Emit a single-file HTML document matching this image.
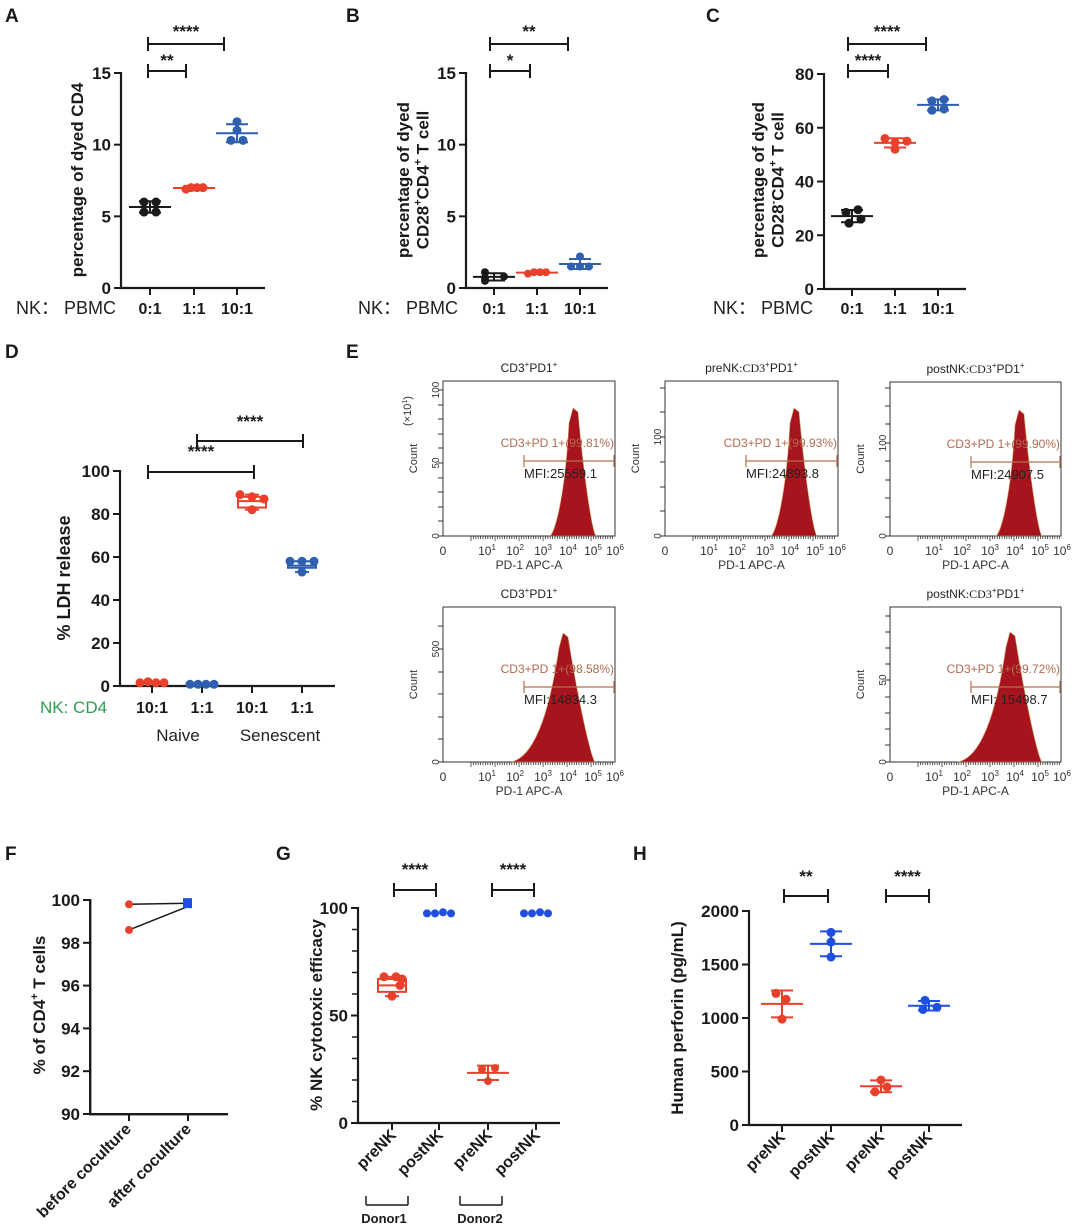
<!DOCTYPE html>
<html><head><meta charset="utf-8"><style>
html,body{margin:0;padding:0;background:#fff}
svg{display:block}
text{font-family:"Liberation Sans",Arial,sans-serif}
</style></head><body>
<svg id="s" width="1080" height="1227" viewBox="0 0 1080 1227" xmlns="http://www.w3.org/2000/svg"></svg>
<script>
var o='';
var K='#1a1a1a',R='#e8402a',B='#2f5fae',BB='#1f4fe0',G='#2e9e4f';
function L(x1,y1,x2,y2,c,w){o+='<line x1="'+x1+'" y1="'+y1+'" x2="'+x2+'" y2="'+y2+'" stroke="'+(c||K)+'" stroke-width="'+(w||2)+'"/>';}
function T(x,y,s,sz,a,wt,c,extra){o+='<text x="'+x+'" y="'+y+'" font-size="'+sz+'" text-anchor="'+(a||'middle')+'" font-weight="'+(wt||'normal')+'" fill="'+(c||K)+'" '+(extra||'')+'>'+s+'</text>';}
function C(x,y,r,c){o+='<circle cx="'+x+'" cy="'+y+'" r="'+r+'" fill="'+c+'"/>';}
function axis(ax,y0,yTop,xEnd,ticks,vmax,cats,labs,labY,fs){
 L(ax,yTop-1,ax,y0+1,K,2.2);L(ax-1,y0,xEnd,y0,K,2.2);
 ticks.forEach(function(t){var y=y0-(y0-yTop)*t/vmax;L(ax-7,y,ax,y,K,2);T(ax-10,y+6,t,fs||17,'end','bold');});
 cats.forEach(function(c,i){L(c,y0,c,y0+7,K,2);if(labs)T(c,labY,labs[i],fs||16,'middle','bold');});
}
function yv(y0,yTop,vmax,v){return y0-(y0-yTop)*v/vmax;}
function grp(x,y0,yTop,vmax,vals,col,r,jit){
 var m=vals.reduce(function(a,b){return a+b},0)/vals.length;
 var sd=Math.sqrt(vals.reduce(function(a,b){return a+(b-m)*(b-m)},0)/(vals.length-1));
 var ym=yv(y0,yTop,vmax,m),yh=yv(y0,yTop,vmax,m+sd),yl=yv(y0,yTop,vmax,m-sd);
 L(x-21,ym,x+21,ym,col,2);L(x,yh,x,yl,col,2);L(x-11,yh,x+11,yh,col,2);L(x-11,yl,x+11,yl,col,2);
 vals.forEach(function(v,i){C(x+jit[i],yv(y0,yTop,vmax,v),r||4.5,col);});
}
function br(x1,x2,y,s,sy){L(x1,y,x2,y,K,2);L(x1,y-7,x1,y+7,K,2);L(x2,y-7,x2,y+7,K,2);T((x1+x2)/2,sy||(y-6),s,17,'middle','bold');}
function ylab(x,y,lines,fs){o+='<text transform="translate('+x+','+y+') rotate(-90)" font-size="'+fs+'" text-anchor="middle" font-weight="bold" fill="'+K+'">';lines.forEach(function(l,i){o+='<tspan x="0" dy="'+(i?fs*1.15:0)+'">'+l+'</tspan>';});o+='</text>';}
[['A',5,22],['B',346,22],['C',706,22],['D',5,358],['E',346,358],['F',5,860],['G',276,860],['H',633,860]].forEach(function(a){T(a[1],a[2],a[0],19,'start','bold');});
// Panel A
axis(121,288,73,265,[0,5,10,15],15,[150,194,237],['0:1','1:1','10:1'],314);
T(16,314,'NK： PBMC',18,'start','normal','#222');
grp(150,288,73,15,[5.3,5.3,6.0,6.0],K,4.5,[-6,6,-6,6]);
grp(194,288,73,15,[6.9,7.0,7.0,7.0],R,4.5,[-8,-3,3,9]);
grp(237,288,73,15,[10.3,10.3,11.0,11.6],B,4.5,[-6,6,0,0]);
br(148,186,71,'**',66);br(148,224,44,'****',37);
ylab(83,180,['percentage of dyed CD4'],17);
// Panel B
axis(466,288,73,608,[0,5,10,15],15,[494,537,580],['0:1','1:1','10:1'],314);
T(358,314,'NK： PBMC',18,'start','normal','#222');
grp(494,288,73,15,[0.5,0.7,0.8,1.1],K,4,[-9,-9,10,-9]);
grp(537,288,73,15,[1.0,1.1,1.1,1.1],R,4,[-9,-3,3,9]);
grp(580,288,73,15,[1.5,1.5,1.5,2.2],B,4,[-9,0,9,0]);
br(490,530,71,'*',66);br(490,568,44,'**',37);
ylab(409,180,['percentage of dyed','CD28<tspan dy="-7" font-size="11">+</tspan><tspan dy="7">CD4</tspan><tspan dy="-7" font-size="11">+</tspan><tspan dy="7"> T cell</tspan>'],17);
// Panel C
axis(824,289,74,966,[0,20,40,60,80],80,[852,895,938],['0:1','1:1','10:1'],314);
T(713,314,'NK： PBMC',18,'start','normal','#222');
grp(852,289,74,80,[24.5,26,28.5,29.5],K,4.5,[-3,9,-6,6]);
grp(895,289,74,80,[52,54.5,55,56],R,4.5,[0,0,12,-10]);
grp(938,289,74,80,[66.5,67,70,70.5],B,4.5,[-6,6,-6,6]);
br(848,888,71,'****',66);br(848,926,44,'****',37);
ylab(764,180,['percentage of dyed','CD28<tspan dy="-7" font-size="11">-</tspan><tspan dy="7">CD4</tspan><tspan dy="-7" font-size="11">+</tspan><tspan dy="7"> T cell</tspan>'],17);
// Panel D
axis(120,686,471,335,[0,20,40,60,80,100],100,[152,202,252,302],['10:1','1:1','10:1','1:1'],713);
T(40,713,'NK: CD4',17,'start','normal',G);
T(178,741,'Naive',17,'middle','normal','#222');T(280,741,'Senescent',17,'middle','normal','#222');
[[-12,1.5],[-4,2],[4,1.5],[12,1.5]].forEach(function(p){C(152+p[0],yv(686,471,100,p[1]),4.5,R);});
[[-12,0.8],[-4,0.8],[4,0.8],[12,0.8]].forEach(function(p){C(202+p[0],yv(686,471,100,p[1]),4.5,B);});
function box(x,y0,yTop,vm,q1,q3,mn,mx,med,col,pts){
 var a=yv(y0,yTop,vm,q3),b=yv(y0,yTop,vm,q1);
 o+='<rect x="'+(x-14)+'" y="'+a+'" width="28" height="'+(b-a)+'" fill="none" stroke="'+col+'" stroke-width="2"/>';
 L(x-14,yv(y0,yTop,vm,med),x+14,yv(y0,yTop,vm,med),col,2);
 L(x,a,x,yv(y0,yTop,vm,mx),col,2);L(x,b,x,yv(y0,yTop,vm,mn),col,2);
 L(x-7,yv(y0,yTop,vm,mn),x+7,yv(y0,yTop,vm,mn),col,2);L(x-7,yv(y0,yTop,vm,mx),x+7,yv(y0,yTop,vm,mx),col,2);
 pts.forEach(function(p){C(x+p[0],yv(y0,yTop,vm,p[1]),4.5,col);});
}
box(252,686,471,100,83,88,82,89,86,R,[[-12,89],[0,88],[12,87],[0,82]]);
box(302,686,471,100,55,58,53,58,56,B,[[-12,58],[0,58],[12,58],[0,53]]);
br(148,254,472,'****',457);br(197,303,441,'****',427);
ylab(70,578,['% LDH release'],18);
// Panel E histograms
function hist(bx,by,bw,bh,title,yt,gate,mfi,peakX,peakTop,wide,ylab2,yticks){
 T(bx+bw/2,by-9,title,12,'middle','normal','#222','font-family="Liberation Serif"');
 o+='<rect x="'+bx+'" y="'+by+'" width="'+bw+'" height="'+bh+'" fill="none" stroke="#333" stroke-width="1"/>';
 var b=by+bh;
 var lw=wide?34:20,rw=wide?26:17;
 var p='M'+(peakX-lw-(wide?20:5))+','+b+' C'+(peakX-lw)+','+(b-4)+' '+(peakX-lw/2)+','+(b-bh*0.25)+' '+(peakX-6)+','+(peakTop+15)+' L'+(peakX-2)+','+peakTop+' L'+(peakX+3)+','+(peakTop+4)+' C'+(peakX+rw/2)+','+(b-bh*0.4)+' '+(peakX+rw)+','+(b-4)+' '+(peakX+rw+4)+','+b+' Z';
 o+='<path d="'+p+'" fill="#a8141e" stroke="#c8a060" stroke-width="0.6"/>';
 var gy=by+80;L(bx+81,gy,bx+bw,gy,'#b07050',1.2);L(bx+81,gy-6,bx+81,gy+6,'#b07050',1.2);L(bx+bw-1,gy-6,bx+bw-1,gy+6,'#b07050',1.2);
 T(bx+bw-1,gy-14,gate,12,'end','normal','#b06a50');
 T(bx+81,gy+17,mfi,13,'start','normal','#222','font-family="Liberation Mono"');
 yticks.forEach(function(t){L(bx-5,t[0],bx,t[0],'#333',1);if(t[1]!=='')T(bx-8,t[0],t[1],10,'middle','normal','#333','transform="rotate(-90 '+(bx-8)+' '+t[0]+')" dy="4"');});
 T(bx-26,by+bh/2,'Count',11,'middle','normal','#333','transform="rotate(-90 '+(bx-26)+' '+(by+bh/2)+')"');
 if(ylab2)T(bx-32,by+30,'(×10<tspan dy="-4" font-size="7">1</tspan><tspan dy="4">)</tspan>',11,'middle','normal','#333','transform="rotate(-90 '+(bx-32)+' '+(by+30)+')"');
 for(var i=0;i<60;i++){var xx=bx+28+i*2.4;L(xx,b,xx,b+(i%10==0?5:3),'#333',0.8);}
 var xl=['0','10<tspan dy="-5" font-size="8">1</tspan>','10<tspan dy="-5" font-size="8">2</tspan>','10<tspan dy="-5" font-size="8">3</tspan>','10<tspan dy="-5" font-size="8">4</tspan>','10<tspan dy="-5" font-size="8">5</tspan>','10<tspan dy="-5" font-size="8">6</tspan>'];
 var xs=[0,44,72,100,125,150,172];
 xl.forEach(function(s,i){T(bx+xs[i],b+19,s,12,'middle','normal','#333');});
 T(bx+bw/2,b+33,'PD-1 APC-A',12,'middle','normal','#333');
}
var t1=[[536,'0'],[463,'50'],[390,'100'],[507,''],[478,''],[448,''],[434,''],[419,''],[405,''],[492,''],[521,'']];
hist(443,381,172,155,'CD3<tspan dy="-5" font-size="8">+</tspan><tspan dy="5">PD1</tspan><tspan dy="-5" font-size="8">+</tspan>','',"CD3+PD 1+(99.81%)",'MFI:25559.1',575,408,false,true,t1);
var t2=[[536,'0'],[437,'100'],[511,''],[487,''],[462,''],[412,''],[388,'']];
hist(665,381,173,155,'preNK<tspan font-family="Liberation Serif">:CD3</tspan><tspan dy="-5" font-size="8">+</tspan><tspan dy="5">PD1</tspan><tspan dy="-5" font-size="8">+</tspan>','',"CD3+PD 1+(99.93%)",'MFI:24893.8',796,408,false,false,t2);
var t3=[[536,'0'],[443,'100'],[517,''],[498,''],[480,''],[461,''],[424,''],[406,''],[388,'']];
hist(890,382,171,154,'postNK<tspan font-family="Liberation Serif">:CD3</tspan><tspan dy="-5" font-size="8">+</tspan><tspan dy="5">PD1</tspan><tspan dy="-5" font-size="8">+</tspan>','',"CD3+PD 1+(99.90%)",'MFI:24907.5',1021,410,false,false,t3);
var t4=[[762,'0'],[649,'500'],[739,''],[717,''],[694,''],[672,''],[626,'']];
hist(443,607,172,155,'CD3<tspan dy="-5" font-size="8">+</tspan><tspan dy="5">PD1</tspan><tspan dy="-5" font-size="8">+</tspan>','',"CD3+PD 1+(98.58%)",'MFI:14834.3',565,633,true,false,t4);
var t5=[[762,'0'],[680,'50'],[745,''],[729,''],[713,''],[697,''],[664,''],[648,''],[632,''],[616,'']];
hist(890,607,171,155,'postNK<tspan font-family="Liberation Serif">:CD3</tspan><tspan dy="-5" font-size="8">+</tspan><tspan dy="5">PD1</tspan><tspan dy="-5" font-size="8">+</tspan>','',"CD3+PD 1+(99.72%)",'MFI: 15498.7',1012,632,true,false,t5);
// Panel F
(function(){var ax=90,y0=1114,yt=900;
o+='<rect x="89" y="899" width="2.4" height="216" fill="'+K+'"/>';
o+='<rect x="89" y="1113" width="139" height="2.4" fill="'+K+'"/>';
[90,92,94,96,98,100].forEach(function(t){var y=y0-(y0-yt)*(t-90)/10;L(ax-7,y,ax,y,K,2);T(ax-10,y+6,t,17,'end','bold');});
[129,188].forEach(function(c){L(c,y0,c,y0+7,K,2);});
function fy(v){return y0-(y0-yt)*(v-90)/10;}
L(129,fy(99.8),188,fy(99.85),K,1.5);L(129,fy(98.6),188,fy(99.7),K,1.5);
C(129,fy(99.8),4,R);C(129,fy(98.6),4,R);
o+='<rect x="183" y="'+(fy(99.9)-4)+'" width="9" height="10" fill="'+BB+'"/>';
T(132,1130,'before coculture',16,'end','bold',K,'transform="rotate(-45 132 1130)"');
T(192,1130,'after coculture',16,'end','bold',K,'transform="rotate(-45 192 1130)"');
ylab(45,1005,['% of CD4<tspan dy="-7" font-size="11">+</tspan><tspan dy="7"> T cells</tspan>'],17);
})();
// Panel G
axis(358,1123,908,560,[0,50,100],100,[392,439,488,536],null,0,17);
for(var i=1;i<10;i++){if(i!=5){var y=yv(1123,908,100,i*10);L(352,y,358,y,K,1.5);}}
box(392,1123,908,100,61,67,59,68,64,R,[[-8,68],[4,68],[10,67],[8,64],[0,59]]);
[[-12,97.5],[-4,97.5],[4,98],[12,97.5]].forEach(function(p){C(439+p[0],yv(1123,908,100,p[1]),4,BB);});
grp(488,1123,908,100,[19.5,25,25.5],R,4,[0,-6,7]);
[[-12,97.5],[-4,97.5],[4,98],[12,97.5]].forEach(function(p){C(536+p[0],yv(1123,908,100,p[1]),4,BB);});
br(394,436,890,'****',875);br(492,534,890,'****',875);
[['preNK',397],['postNK',444],['preNK',493],['postNK',541]].forEach(function(a){T(a[1],1136,a[0],16,'end','bold',K,'transform="rotate(-45 '+a[1]+' 1136)"');});
L(366,1196,366,1205,K,1.5);L(366,1205,408,1205,K,1.5);L(408,1196,408,1205,K,1.5);
L(460,1196,460,1205,K,1.5);L(460,1205,502,1205,K,1.5);L(502,1196,502,1205,K,1.5);
T(384,1223,'Donor1',13,'middle','bold');T(480,1223,'Donor2',13,'middle','bold');
ylab(322,1015,['% NK cytotoxic efficacy'],17);
// Panel H
axis(749,1125,911,962,[0,500,1000,1500,2000],2000,[782,831,881,929],null,0,17);
grp(782,1125,911,2000,[990,1175,1230],R,4.5,[0,4,-6]);
grp(831,1125,911,2000,[1570,1710,1800],BB,4.5,[0,0,0]);
grp(881,1125,911,2000,[310,355,420],R,4.5,[-6,6,0]);
grp(929,1125,911,2000,[1080,1100,1165],BB,4.5,[-6,8,-4]);
br(784,828,896,'**',882);br(886,929,896,'****',882);
[['preNK',786],['postNK',835],['preNK',885],['postNK',933]].forEach(function(a){T(a[1],1138,a[0],16,'end','bold',K,'transform="rotate(-45 '+a[1]+' 1138)"');});
ylab(683,1018,['Human perforin (pg/mL)'],17);
document.getElementById('s').innerHTML=o;
</script>
</body></html>
